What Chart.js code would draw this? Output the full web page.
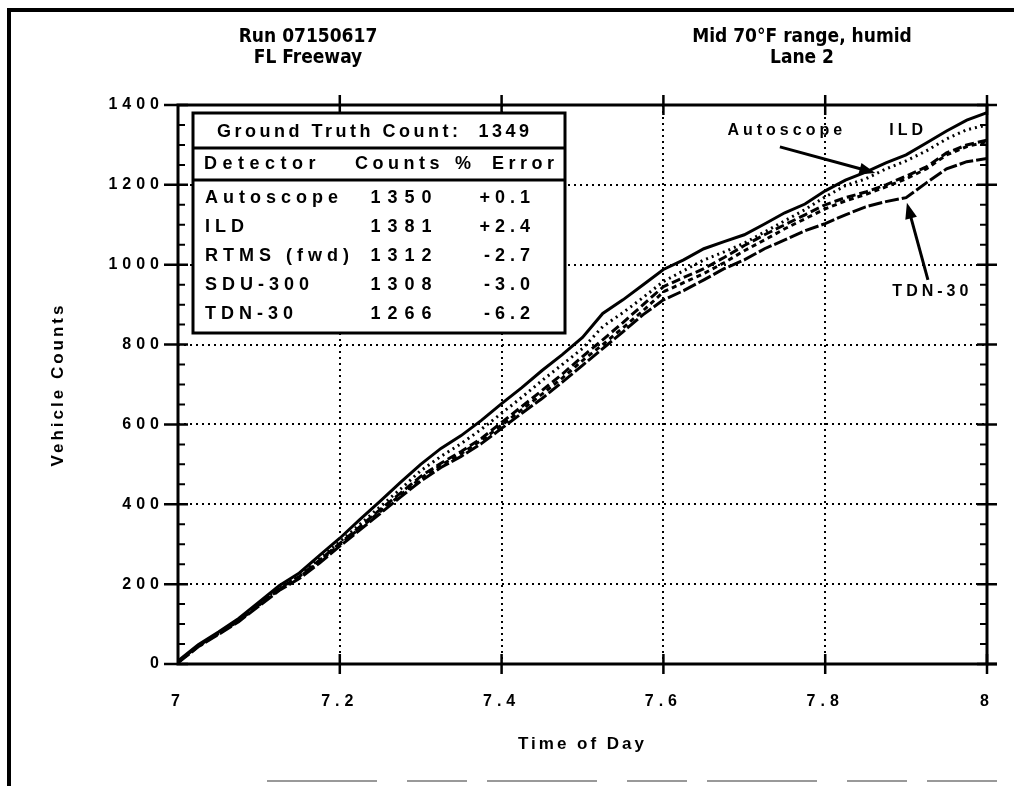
<!DOCTYPE html>
<html>
<head>
<meta charset="utf-8">
<script src="https://cdn.jsdelivr.net/npm/chart.js@4.4.1/dist/chart.umd.min.js"></script>
<style>
  html, body { margin: 0; padding: 0; background: #fff; }
  canvas { display: block; }
</style>
</head>
<body>
<canvas id="countChart" width="1021" height="786"></canvas>
<script>
// time of day (hours), every 0.025 h
var hours = [7.000, 7.025, 7.050, 7.075, 7.100, 7.125, 7.150, 7.175, 7.200, 7.225,
             7.250, 7.275, 7.300, 7.325, 7.350, 7.375, 7.400, 7.425, 7.450, 7.475,
             7.500, 7.525, 7.550, 7.575, 7.600, 7.625, 7.650, 7.675, 7.700, 7.725,
             7.750, 7.775, 7.800, 7.825, 7.850, 7.875, 7.900, 7.925, 7.950, 7.975, 8.000];

// cumulative vehicle counts
var autoscope = [6, 46, 78, 111, 151, 191, 222, 264, 306, 350,
                 394, 438, 484, 520, 552, 588, 628, 668, 710, 750,
                 790, 845, 880, 918, 958, 985, 1012, 1032, 1054, 1082,
                 1110, 1138, 1170, 1198, 1215, 1240, 1260, 1285, 1315, 1338, 1350];
var ild = [8, 48, 80, 114, 155, 196, 228, 272, 315, 362,
           408, 455, 500, 540, 572, 610, 652, 692, 735, 775,
           818, 878, 912, 950, 988, 1012, 1040, 1058, 1075, 1102,
           1130, 1152, 1185, 1212, 1232, 1255, 1275, 1305, 1335, 1362, 1381];
var rtms = [5, 45, 77, 110, 149, 189, 219, 260, 302, 344,
            387, 428, 470, 503, 532, 565, 605, 645, 685, 726,
            770, 812, 855, 900, 945, 968, 990, 1018, 1048, 1075,
            1100, 1125, 1150, 1168, 1182, 1200, 1222, 1245, 1280, 1300, 1312];
var sdu300 = [4, 44, 76, 108, 147, 187, 217, 257, 299, 340,
              382, 423, 465, 498, 527, 560, 598, 637, 676, 716,
              760, 800, 842, 885, 932, 955, 978, 1005, 1035, 1062,
              1090, 1115, 1140, 1160, 1176, 1195, 1215, 1240, 1275, 1296, 1308];
var tdn30 = [3, 43, 74, 106, 145, 184, 214, 253, 295, 336,
             377, 418, 458, 492, 520, 552, 590, 628, 665, 706,
             748, 790, 832, 875, 912, 935, 962, 990, 1012, 1040,
             1062, 1085, 1103, 1125, 1145, 1158, 1168, 1205, 1240, 1258, 1266];

// summary table
var groundTruth = 1349;
var detectorNames = ['Autoscope', 'ILD', 'RTMS (fwd)', 'SDU-300', 'TDN-30'];
var finalCounts = ['1350', '1381', '1312', '1308', '1266'];
var pctErrors = ['+0.1', '+2.4', '-2.7', '-3.0', '-6.2'];

var titleLeft = ['Run 07150617', 'FL Freeway'];
var titleRight = ['Mid 70\u00B0F range, humid', 'Lane 2'];

function toPoints(ys) {
  var pts = [];
  for (var i in hours) {
    pts.push({ x: hours[i], y: ys[i] });
  }
  return pts;
}

var boldFont = '"Liberation Sans", Arial, sans-serif';
var narrowFont = '"Liberation Sans Narrow", "DejaVu Sans Condensed", "Liberation Sans", sans-serif';

// the old plot spreads its letters out: widen tick labels and axis titles
var baseDrawLabels = Chart.LinearScale.prototype.drawLabels;
Chart.LinearScale.prototype.drawLabels = function() {
  this.ctx.letterSpacing = '5px';
  baseDrawLabels.apply(this, arguments);
  this.ctx.letterSpacing = '0px';
};
var baseDrawTitle = Chart.LinearScale.prototype.drawTitle;
Chart.LinearScale.prototype.drawTitle = function() {
  this.ctx.letterSpacing = '3px';
  baseDrawTitle.apply(this, arguments);
  this.ctx.letterSpacing = '0px';
};

function spacedText(ctx, text, x, y, align, spacing) {
  ctx.letterSpacing = spacing + 'px';
  var w = ctx.measureText(text).width - spacing;
  var sx = x;
  if (align === 'center') sx = x - w / 2;
  if (align === 'right') sx = x - w;
  ctx.textAlign = 'left';
  ctx.fillText(text, sx, y);
  ctx.letterSpacing = '0px';
}

function arrow(ctx, x1, y1, x2, y2) {
  var a = Math.atan2(y2 - y1, x2 - x1);
  var len = 16, half = 6;
  ctx.lineWidth = 3;
  ctx.beginPath();
  ctx.moveTo(x1, y1);
  ctx.lineTo(x2 - Math.cos(a) * len * 0.8, y2 - Math.sin(a) * len * 0.8);
  ctx.stroke();
  ctx.beginPath();
  ctx.moveTo(x2, y2);
  ctx.lineTo(x2 - Math.cos(a) * len - Math.sin(a) * half, y2 - Math.sin(a) * len + Math.cos(a) * half);
  ctx.lineTo(x2 - Math.cos(a) * len + Math.sin(a) * half, y2 - Math.sin(a) * len - Math.cos(a) * half);
  ctx.closePath();
  ctx.fill();
}

var framePlugin = {
  id: 'frame',
  afterDatasetsDraw: function(chart) {
    var ctx = chart.ctx, a = chart.chartArea;
    var xs = chart.scales.x, ys = chart.scales.y;
    ctx.save();
    ctx.strokeStyle = '#000';
    ctx.lineWidth = 3;
    ctx.strokeRect(a.left, a.top, a.right - a.left, a.bottom - a.top);
    ctx.beginPath();
    ctx.moveTo(a.right, a.bottom);
    ctx.lineTo(a.right + 10, a.bottom);
    ctx.stroke();
    // major ticks on x (bottom and top), crossing the axis
    ctx.lineWidth = 2.5;
    for (var t = 7.2; t < 8.05; t += 0.2) {
      var px = xs.getPixelForValue(t);
      ctx.beginPath();
      ctx.moveTo(px, a.bottom - 10); ctx.lineTo(px, a.bottom + 10);
      ctx.moveTo(px, a.top - 10); ctx.lineTo(px, a.top + 10);
      ctx.stroke();
    }
    // y ticks: major every 200, minor every 50, both sides
    for (var v = 0; v <= 1400; v += 50) {
      var py = ys.getPixelForValue(v);
      ctx.beginPath();
      if (v % 200 === 0) {
        ctx.lineWidth = 2.5;
        ctx.moveTo(a.left - 14, py); ctx.lineTo(a.left + 10, py);
        ctx.moveTo(a.right - 10, py); ctx.lineTo(a.right + 10, py);
      } else {
        ctx.lineWidth = 2;
        ctx.moveTo(a.left, py); ctx.lineTo(a.left + 7, py);
        ctx.moveTo(a.right - 7, py); ctx.lineTo(a.right, py);
      }
      ctx.stroke();
    }
    ctx.restore();
  },
  afterDraw: function(chart) {
    var ctx = chart.ctx;
    var xs = chart.scales.x, ys = chart.scales.y;
    ctx.save();
    ctx.fillStyle = '#000';
    ctx.strokeStyle = '#000';
    ctx.textBaseline = 'middle';

    // page border
    ctx.lineWidth = 4;
    ctx.beginPath();
    ctx.moveTo(9, 786); ctx.lineTo(9, 10); ctx.lineTo(1014, 10);
    ctx.stroke();
    ctx.strokeStyle = '#999';
    ctx.lineWidth = 2;
    ctx.setLineDash([110, 30, 60, 20]);
    ctx.beginPath();
    ctx.moveTo(267, 781); ctx.lineTo(997, 781);
    ctx.stroke();
    ctx.setLineDash([]);
    ctx.strokeStyle = '#000';

    // titles
    ctx.font = 'bold 19px ' + narrowFont;
    spacedText(ctx, titleLeft[0], 308, 37, 'center', 0);
    spacedText(ctx, titleLeft[1], 308, 58, 'center', 0);
    spacedText(ctx, titleRight[0], 802, 37, 'center', 0);
    spacedText(ctx, titleRight[1], 802, 58, 'center', 0);

    // summary table
    var L = 193, R = 565, T = 113, B = 333;
    ctx.fillStyle = '#fff';
    ctx.fillRect(L, T, R - L, B - T);
    ctx.fillStyle = '#000';
    ctx.lineWidth = 3;
    ctx.strokeRect(L, T, R - L, B - T);
    ctx.beginPath();
    ctx.moveTo(L, 148); ctx.lineTo(R, 148);
    ctx.moveTo(L, 180); ctx.lineTo(R, 180);
    ctx.stroke();
    ctx.font = 'bold 18px ' + boldFont;
    spacedText(ctx, 'Ground Truth Count:  ' + groundTruth, 373, 132, 'center', 3.5);
    spacedText(ctx, 'Detector', 204, 164, 'left', 5.5);
    spacedText(ctx, 'Counts', 355, 164, 'left', 4.5);
    spacedText(ctx, '%', 455, 164, 'left', 4);
    spacedText(ctx, 'Error', 492, 164, 'left', 4.5);
    for (var i = 0; i < detectorNames.length; i++) {
      var ry = 198 + i * 29;
      spacedText(ctx, detectorNames[i], 205, ry, 'left', 5);
      spacedText(ctx, finalCounts[i], 401, ry, 'center', 7);
      spacedText(ctx, pctErrors[i], 530, ry, 'right', 5);
    }

    // line labels and arrows
    ctx.font = 'bold 16px ' + boldFont;
    spacedText(ctx, 'Autoscope', xs.getPixelForValue(7.750), ys.getPixelForValue(1335), 'center', 4);
    spacedText(ctx, 'ILD', xs.getPixelForValue(7.900), ys.getPixelForValue(1335), 'center', 4);
    spacedText(ctx, 'TDN-30', xs.getPixelForValue(7.930), ys.getPixelForValue(932), 'center', 4);
    arrow(ctx, xs.getPixelForValue(7.744), ys.getPixelForValue(1295),
               xs.getPixelForValue(7.862), ys.getPixelForValue(1230));
    arrow(ctx, xs.getPixelForValue(7.927), ys.getPixelForValue(962),
               xs.getPixelForValue(7.901), ys.getPixelForValue(1155));
    ctx.restore();
  }
};

function lineSet(label, ys, dash, width) {
  return {
    label: label,
    data: toPoints(ys),
    borderColor: '#000',
    borderWidth: width,
    borderDash: dash,
    pointRadius: 0,
    tension: 0,
    fill: false
  };
}

var ctx = document.getElementById('countChart');
var countChart = new Chart(ctx, {
  type: 'line',
  data: {
    datasets: [
      lineSet('ILD', ild, [], 3),
      lineSet('Autoscope', autoscope, [2, 4], 3),
      lineSet('RTMS (fwd)', rtms, [9, 4], 3),
      lineSet('SDU-300', sdu300, [5, 4], 3),
      lineSet('TDN-30', tdn30, [14, 3], 3)
    ]
  },
  options: {
    responsive: false,
    animation: false,
    layout: { padding: { left: 0, right: 34, top: 105, bottom: 0 } },
    plugins: {
      legend: { display: false },
      tooltip: { enabled: false }
    },
    scales: {
      x: {
        type: 'linear',
        min: 7,
        max: 8,
        afterFit: function(scale) { scale.height = 122; },
        grid: { color: '#000', lineWidth: 2, drawTicks: false },
        border: { display: false, dash: [2, 4] },
        ticks: {
          stepSize: 0.2,
          padding: 28,
          color: '#000',
          font: { family: boldFont, size: 16, weight: 'bold' },
          callback: function(v) { return String(Math.round(v * 10) / 10); }
        },
        title: {
          display: true,
          text: 'Time of Day',
          color: '#000',
          font: { family: boldFont, size: 17, weight: 'bold' },
          padding: { top: 0, bottom: 31 }
        }
      },
      y: {
        min: 0,
        max: 1400,
        afterFit: function(scale) { scale.width = 178; },
        grid: { color: '#000', lineWidth: 2, drawTicks: false },
        border: { display: false, dash: [2, 4] },
        ticks: {
          stepSize: 200,
          padding: 14,
          color: '#000',
          font: { family: boldFont, size: 16, weight: 'bold' },
          callback: function(v) { return String(v); }
        },
        title: {
          display: true,
          text: 'Vehicle Counts',
          color: '#000',
          font: { family: boldFont, size: 17, weight: 'bold' },
          padding: { top: 48, bottom: 0 }
        }
      }
    }
  },
  plugins: [framePlugin]
});
</script>
</body>
</html>
